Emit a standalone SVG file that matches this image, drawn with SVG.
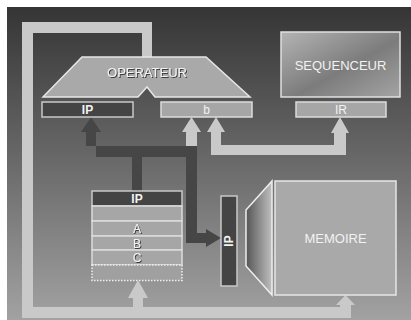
<svg xmlns="http://www.w3.org/2000/svg" width="411" height="320" viewBox="0 0 411 320">
<defs>
<linearGradient id="bg" x1="0" y1="0" x2="0" y2="1">
<stop offset="0" stop-color="#353535"/>
<stop offset="0.5" stop-color="#6a6a6a"/>
<stop offset="1" stop-color="#a2a2a2"/>
</linearGradient>
<linearGradient id="seq" x1="0" y1="0" x2="1" y2="1">
<stop offset="0" stop-color="#b4b4b4"/>
<stop offset="0.55" stop-color="#7c7c7c"/>
<stop offset="1" stop-color="#a4a4a4"/>
</linearGradient>
<linearGradient id="fun" x1="0" y1="0" x2="1" y2="0">
<stop offset="0" stop-color="#555"/>
<stop offset="1" stop-color="#c0c0c0"/>
</linearGradient>
<filter id="sh" x="-20%" y="-50%" width="140%" height="200%">
<feDropShadow dx="1" dy="1" stdDeviation="0.4" flood-color="#333" flood-opacity="0.9"/>
</filter>
<style>
.lp{fill:#c9c9c9}
.dk{fill:#464646}
.reg{fill:#a6a6a6;stroke:#dcdcdc;stroke-width:1.5}
.dreg{fill:#444;stroke:#c8c8c8;stroke-width:1.5}
.t{font-family:"Liberation Sans",Arial,sans-serif;fill:#f2f2f2;text-anchor:middle;dominant-baseline:central}
.b{font-weight:bold}
</style>
</defs>
<rect x="0" y="0" width="411" height="320" fill="#fff"/>
<rect x="7" y="7" width="404" height="313" fill="url(#bg)"/>
<g id="connectors">
<!-- light pipe: left loop -->
<path class="lp" d="M22,22 H152 V58 H142 V33 H33 V307 H133 V298 H128 L138,280 L148,298 H143 V307 H340 V305 H336 L345.5,295 L355,305 H351 V318 H22 Z"/>
<!-- light pipe: memoire to IR and b -->
<path class="lp" d="M334,182 V133 H331 L340,117 L349,133 H346 V155 H211 V132 H207 L216,117 L225,132 H221 V145 H334 Z" transform="translate(0,0)"/>
<path class="lp" d="M186,146 V132 H182 L191.5,117 L201,132 H197 V146 Z"/>
<!-- dark path -->
<path class="dk" d="M132,191 V157 H96 V132 H101 L91,117 L81,132 H86 V146 H197 V233 H206 V229 L221,238 L206,247 V243 H186 V157 H142 V191 Z"/>
</g>
<g id="operateur">
<polygon points="82,57 206,57 250,97 155,97 147,87 138,97 43,97" fill="#a9a9a9" stroke="#e6e6e6" stroke-width="1.5"/>
<text class="t" x="147" y="72" font-size="13" filter="url(#sh)">OPERATEUR</text>
</g>
<g id="reg-ip">
<rect class="dreg" x="42" y="102" width="91" height="15"/>
<text class="t b" x="87.5" y="110" font-size="12">IP</text>
</g>
<g id="reg-b">
<rect class="reg" x="161" y="102" width="91" height="15"/>
<text class="t" x="206.5" y="110" font-size="12">b</text>
</g>
<g id="sequenceur">
<rect x="281" y="32" width="119" height="65" fill="url(#seq)" stroke="#e0e0e0" stroke-width="1.5"/>
<text class="t" x="340.5" y="65" font-size="13">SEQUENCEUR</text>
</g>
<g id="reg-ir">
<rect class="reg" x="296" y="102" width="90" height="15"/>
<text class="t" x="341" y="110" font-size="12">IR</text>
</g>
<g id="pile">
<rect class="dreg" x="92" y="191" width="90" height="15" stroke="#e0e0e0"/>
<text class="t b" x="137" y="199" font-size="12">IP</text>
<rect class="reg" x="92" y="206" width="90" height="15" stroke="#e6e6e6"/>
<rect class="reg" x="92" y="221" width="90" height="15" stroke="#e6e6e6"/>
<text class="t" x="137" y="229" font-size="12" filter="url(#sh)">A</text>
<rect class="reg" x="92" y="236" width="90" height="14" stroke="#e6e6e6"/>
<text class="t" x="137" y="243.5" font-size="12" filter="url(#sh)">B</text>
<rect class="reg" x="92" y="250" width="90" height="15" stroke="#e6e6e6"/>
<text class="t" x="137" y="258" font-size="12" filter="url(#sh)">C</text>
<rect x="92" y="265" width="90" height="15.5" fill="#a0a0a0" stroke="#f0f0f0" stroke-width="1.5" stroke-dasharray="1.5,1.5"/>
</g>
<g id="reg-ip-v">
<rect class="dreg" x="221" y="196" width="16" height="90"/>
<text class="t b" x="229" y="241" font-size="12" transform="rotate(-90 229 241)">IP</text>
</g>
<g id="entonnoir">
<polygon points="246,210 272,181 272,295 246,266" fill="url(#fun)" stroke="#eee" stroke-width="1.5"/>
</g>
<g id="memoire">
<rect x="275" y="181" width="121" height="114" fill="#a9a9a9" stroke="#e6e6e6" stroke-width="1.5"/>
<text class="t" x="335.5" y="238" font-size="13">MEMOIRE</text>
</g>
</svg>
